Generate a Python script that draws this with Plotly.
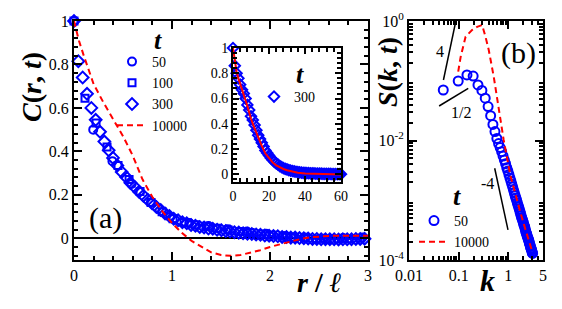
import numpy as np
import plotly.graph_objects as go

W, H = 562, 309

# ---------------- Panel (a): C(r,t) vs r/l ----------------
ell_50, ell_100, ell_300 = 5.1, 8.9, 22.6
dist_50 = list(range(16))
C_50 = [1.0, 0.50, 0.355, 0.25, 0.165, 0.098, 0.070, 0.056, 0.042, 0.031,
        0.021, 0.011, 0.004, -0.002, 0.001, 0.003]
dist_100 = list(range(27))
C_100 = [1.0, 0.645, 0.53, 0.42, 0.335, 0.27, 0.215, 0.165, 0.122, 0.09,
         0.073, 0.062, 0.055, 0.046, 0.038, 0.031, 0.026, 0.02, 0.014, 0.009,
         0.004, 0.0, -0.004, -0.006, -0.005, -0.003, 0.0]
dist_300 = list(range(69))
C_300 = [1.0, 0.815, 0.74, 0.665, 0.60, 0.545, 0.49, 0.445, 0.405, 0.37,
         0.335, 0.305, 0.282, 0.255, 0.236, 0.214, 0.196, 0.177, 0.161, 0.144,
         0.13, 0.114, 0.102, 0.09, 0.083, 0.074, 0.069, 0.061, 0.058, 0.052,
         0.05, 0.045, 0.044, 0.039, 0.037, 0.033, 0.031, 0.028, 0.026, 0.023,
         0.021, 0.02, 0.017, 0.016, 0.013, 0.012, 0.01, 0.009, 0.006, 0.006,
         0.003, 0.003, 0.001, 0.0, -0.001, -0.003, -0.003, -0.004, -0.004, -0.005,
         -0.004, -0.006, -0.005, -0.005, -0.004, -0.003, -0.003, -0.002, -0.002]
r_10000 = [0.0, 0.05, 0.1, 0.15, 0.2, 0.3, 0.4, 0.5, 0.6, 0.7, 0.8, 0.9, 1.0,
           1.1, 1.2, 1.3, 1.4, 1.5, 1.6, 1.7, 1.8, 1.9, 2.0, 2.1, 2.2, 2.3,
           2.4, 2.5, 2.6, 2.8, 3.0]
C_10000 = [1.0, 0.91, 0.84, 0.775, 0.71, 0.625, 0.55, 0.47, 0.38, 0.27, 0.19,
           0.125, 0.07, 0.025, -0.012, -0.04, -0.065, -0.077, -0.081, -0.077,
           -0.067, -0.055, -0.04, -0.028, -0.015, -0.005, 0.004, 0.009, 0.011,
           0.012, 0.012]

# inset: t = 300 in lattice units, and fitted curve
inset_dist = list(range(61))
inset_C300 = [1.0, 0.86, 0.80, 0.76, 0.71, 0.67, 0.64, 0.60, 0.55, 0.51,
              0.46, 0.43, 0.39, 0.35, 0.31, 0.28, 0.25, 0.22, 0.19, 0.17,
              0.15, 0.13, 0.115, 0.10, 0.088, 0.077, 0.066, 0.058, 0.05, 0.044,
              0.039, 0.034, 0.03, 0.027, 0.024, 0.021, 0.019, 0.017, 0.015, 0.013,
              0.012, 0.011, 0.01, 0.009, 0.009, 0.008, 0.007, 0.007, 0.006, 0.006,
              0.005, 0.005, 0.004, 0.004, 0.004, 0.003, 0.003, 0.003, 0.003, 0.002,
              0.002]
inset_fit_x = [0, 1, 2, 3, 4, 5, 6, 7, 8, 9, 10, 12, 14, 16, 18, 20, 22, 24, 26,
               28, 30, 33, 36, 40, 45, 50, 55, 60]
inset_fit_y = [1.0, 0.89, 0.81, 0.76, 0.72, 0.675, 0.63, 0.585, 0.54, 0.49, 0.44,
               0.365, 0.29, 0.225, 0.165, 0.125, 0.095, 0.072, 0.055, 0.043,
               0.033, 0.022, 0.014, 0.008, 0.004, 0.002, 0.001, 0.0]

# ---------------- Panel (b): S(k,t) ----------------
dk_50 = 0.049
mode_50 = list(range(1, 64))
S_50 = [0.070, 0.099, 0.125, 0.120, 0.085, 0.069, 0.051, 0.037, 0.026, 0.0186,
        0.0141, 0.0108, 0.0089, 0.0076, 0.0065, 0.0055, 0.0047, 0.0041, 0.0035, 0.0031,
        0.0027, 0.00236, 0.0021, 0.00186, 0.00166, 0.00148, 0.00133, 0.0012, 0.00109, 0.0010,
        0.00091, 0.00083, 0.00077, 0.00071, 0.00065, 0.0006, 0.00055, 0.00051, 0.00048, 0.00045,
        0.00042, 0.00039, 0.00037, 0.00035, 0.00032, 0.0003, 0.00028, 0.00027, 0.00025, 0.00024,
        0.00023, 0.00022, 0.00021, 0.000195, 0.000186, 0.000178, 0.000168, 0.000159, 0.000153,
        0.000148, 0.00014, 0.000132, 0.000129]
k_10000 = [0.098, 0.11, 0.138, 0.188, 0.236, 0.297, 0.347, 0.404, 0.509, 0.641,
           0.807, 1.1, 1.4, 1.74, 2.2, 2.75, 3.07]
S_10000 = [0.142, 0.253, 0.546, 0.71, 0.80, 0.857, 0.546, 0.327, 0.117, 0.037,
           0.0102, 0.0026, 0.00118, 0.00064, 0.00033, 0.000175, 0.000135]

guide_4_k = [0.0494, 0.0878]
guide_4_S = [0.103, 1.0]
guide_half_k = [0.0404, 0.156]
guide_half_S = [0.0378, 0.0748]
guide_m4_k = [0.532, 0.986]
guide_m4_S = [0.00343, 0.00032]

BLUE = "#0000ff"
RED = "#ff0000"
SERIF = "Liberation Serif"

fig = go.Figure()

def mk(symbol, size=8):
    return dict(symbol=symbol, size=size, color=BLUE, line=dict(color=BLUE, width=2))

fig.add_trace(go.Scatter(x=np.array(dist_50) / ell_50, y=C_50, mode="markers",
                         marker=mk("circle-open"), name="50", xaxis="x", yaxis="y",
                         legend="legend", cliponaxis=False))
fig.add_trace(go.Scatter(x=np.array(dist_100) / ell_100, y=C_100, mode="markers",
                         marker=mk("square-open", 7), name="100", xaxis="x", yaxis="y",
                         legend="legend", cliponaxis=False))
fig.add_trace(go.Scatter(x=np.array(dist_300) / ell_300, y=C_300, mode="markers",
                         marker=mk("diamond-open", 9), name="300", xaxis="x", yaxis="y",
                         legend="legend", cliponaxis=False))
fig.add_trace(go.Scatter(x=r_10000, y=C_10000, mode="lines",
                         line=dict(color=RED, width=2, dash="6px,4px"), name="10000",
                         xaxis="x", yaxis="y", legend="legend"))

# inset
fig.add_trace(go.Scatter(x=inset_dist, y=inset_C300, mode="markers",
                         marker=mk("diamond-open", 8), name="300", xaxis="x3", yaxis="y3",
                         legend="legend3", cliponaxis=False))
fig.add_trace(go.Scatter(x=inset_fit_x, y=inset_fit_y, mode="lines",
                         line=dict(color=RED, width=2), showlegend=False,
                         xaxis="x3", yaxis="y3"))

# panel b
fig.add_trace(go.Scatter(x=np.array(mode_50) * dk_50, y=S_50, mode="markers",
                         marker=mk("circle-open", 9), name="50", xaxis="x2", yaxis="y2",
                         legend="legend2", cliponaxis=False))
fig.add_trace(go.Scatter(x=k_10000, y=S_10000, mode="lines",
                         line=dict(color=RED, width=2, dash="6px,4px"), name="10000",
                         xaxis="x2", yaxis="y2", legend="legend2"))
for gk, gs in [(guide_4_k, guide_4_S), (guide_half_k, guide_half_S), (guide_m4_k, guide_m4_S)]:
    fig.add_trace(go.Scatter(x=gk, y=gs, mode="lines", line=dict(color="black", width=1.5),
                             showlegend=False, xaxis="x2", yaxis="y2"))

def px(x, y):
    return x / W, 1 - y / H

axis_common = dict(showline=True, linecolor="black", linewidth=2, mirror="ticks",
                   ticks="inside", ticklen=8, tickwidth=1.5, tickcolor="black",
                   showgrid=False, zeroline=False, automargin=False,
                   tickfont=dict(family=SERIF, size=16, color="black"))
minor_common = dict(ticks="inside", ticklen=4, tickwidth=1.5, tickcolor="black", showgrid=False)

fig.update_layout(
    width=W, height=H, margin=dict(l=0, r=0, t=0, b=0, autoexpand=False),
    paper_bgcolor="white", plot_bgcolor="white",
    xaxis=dict(axis_common, domain=[74 / W, 368 / W], range=[0, 3], anchor="y",
               tickmode="array", tickvals=[0, 1, 2, 3],
               minor=dict(minor_common, dtick=0.2, tick0=0)),
    yaxis=dict(axis_common, domain=[49 / H, 288 / H], range=[-0.1, 1.0], anchor="x",
               tickmode="array", tickvals=[0, 0.2, 0.4, 0.6, 0.8, 1.0],
               ticktext=["0", "0.2", "0.4", "0.6", "0.8", "1"],
               zeroline=True, zerolinecolor="black", zerolinewidth=2,
               minor=dict(minor_common, dtick=0.04, tick0=0)),
    xaxis2=dict(axis_common, type="log", domain=[409 / W, 543 / W],
                range=[-2, np.log10(5)], anchor="y2",
                tickmode="array", tickvals=[0.01, 0.1, 1, 5],
                ticktext=["0.01", "0.1", "1", "5"],
                minor=dict(minor_common, tickmode="array",
                           tickvals=[0.02, 0.03, 0.04, 0.05, 0.06, 0.07, 0.08, 0.09,
                                     0.2, 0.3, 0.4, 0.5, 0.6, 0.7, 0.8, 0.9, 2, 3, 4])),
    yaxis2=dict(axis_common, type="log", domain=[49 / H, 288 / H], range=[-4, 0],
                anchor="x2", tickmode="array",
                tickvals=[1e-4, 1e-2, 1],
                ticktext=["10<sup>-4</sup>", "10<sup>-2</sup>", "10<sup>0</sup>"],
                minor=dict(minor_common, tickmode="array",
                           tickvals=[m * 10.0 ** e for e in range(-4, 0) for m in range(2, 10)])),
    xaxis3=dict(axis_common, domain=[233 / W, 341 / W], range=[0, 60], anchor="y3",
                tickmode="array", tickvals=[0, 20, 40, 60], ticklen=6,
                tickfont=dict(family=SERIF, size=14, color="black"),
                minor=dict(minor_common, dtick=4, tick0=0, ticklen=4)),
    yaxis3=dict(axis_common, domain=[(H - 182) / H, (H - 48) / H], range=[-0.06, 1.0],
                anchor="x3", tickmode="array", tickvals=[0, 0.2, 0.4, 0.6, 0.8, 1.0],
                ticktext=["0", "0.2", "0.4", "0.6", "0.8", "1"], ticklen=6,
                tickfont=dict(family=SERIF, size=14, color="black"),
                minor=dict(minor_common, dtick=0.04, tick0=0, ticklen=4)),
    showlegend=True,
)

leg_common = dict(bgcolor="rgba(0,0,0,0)", borderwidth=0,
                  font=dict(family=SERIF, size=14, color="black"),
                  xanchor="left", yanchor="top", tracegroupgap=0)
lx, ly = px(112, 46)
fig.update_layout(legend=dict(leg_common, x=lx, y=ly))
lx, ly = px(414, 205)
fig.update_layout(legend2=dict(leg_common, x=lx, y=ly))
lx, ly = px(254, 81)
fig.update_layout(legend3=dict(leg_common, x=lx, y=ly))

def ann(text, x, y, size, angle=0):
    ax, ay = px(x, y)
    fig.add_annotation(text=text, x=ax, y=ay, xref="paper", yref="paper",
                       showarrow=False, textangle=angle, xanchor="center", yanchor="middle",
                       font=dict(family=SERIF, size=size, color="black"))

ann("(a)", 105, 218, 30)
ann("(b)", 518, 53, 30)
ann("4", 440, 51, 16)
ann("1/2", 461, 112, 16)
ann("-4", 487, 183, 16)
ann("<b><i>t</i></b>", 158, 41, 26)
ann("<b><i>t</i></b>", 457, 196, 26)
ann("<b><i>t</i></b>", 300, 74, 26)
ann("<b><i>C</i>(<i>r</i>, <i>t</i>)</b>", 31, 87, 28, -90)
ann("<b><i>S</i>(<i>k</i>, <i>t</i>)</b>", 387, 72, 28, -90)
ann("<b><i>r</i> / <i>ℓ</i></b>", 319, 282, 28)
ann("<b><i>k</i></b>", 487, 280, 30)

fig.write_html("out.html", config={"displayModeBar": False},
               post_script="document.body.style.margin='0px';")
